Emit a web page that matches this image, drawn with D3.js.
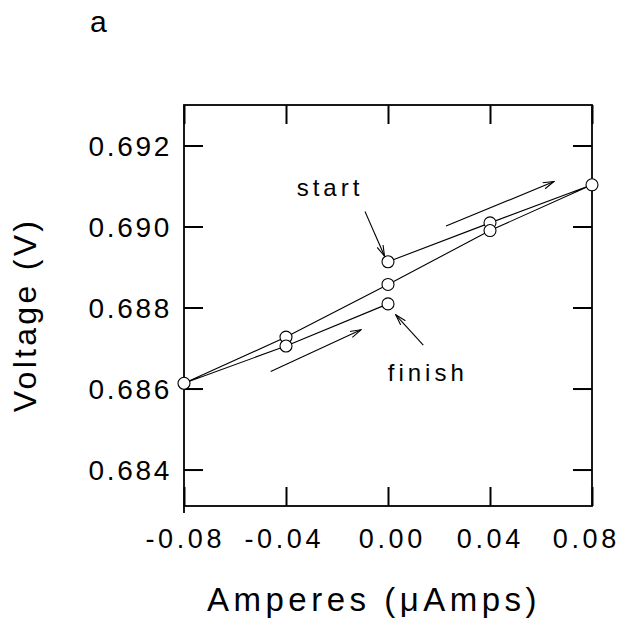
<!DOCTYPE html>
<html>
<head>
<meta charset="utf-8">
<script src="https://cdn.jsdelivr.net/npm/d3@7"></script>
<style>
  html, body { margin: 0; padding: 0; background: #fff; }
  svg { display: block; font-family: "Liberation Sans", Arial, Helvetica, sans-serif; }
</style>
</head>
<body>
<svg id="chart" width="619" height="626"></svg>
<script>
// ---- data ----
const currents = [0, 0.04, 0.08, 0.04, 0, -0.04, -0.08, -0.04, 0];
const voltages = [0.68913, 0.69009, 0.69103, 0.68990, 0.68857, 0.68727, 0.68613, 0.68705, 0.68809];
const xTicks = [-0.08, -0.04, 0.00, 0.04, 0.08];
const xTickLabels = ["-0.08", "-0.04", "0.00", "0.04", "0.08"];
const yTicks = [0.684, 0.686, 0.688, 0.690, 0.692];
const yTickLabels = ["0.684", "0.686", "0.688", "0.690", "0.692"];
const xDomain = [-0.08, 0.08];
const yDomain = [0.6831, 0.6930];
// annotation arrows in data units (tail -> head)
const arrowTails = [[0.02275, 0.69001], [-0.0460, 0.68642], [-0.00902, 0.69037], [0.01384, 0.68707]];
const arrowHeads = [[0.0651, 0.69111], [-0.01059, 0.68745], [-0.00137, 0.68927], [0.00302, 0.68782]];
const noteTexts = ["start", "finish"];
const notePos = [[-0.0358, 0.69076], [-0.0001, 0.68619]];
const panelLabel = "a";
const xTitle = "Amperes (\u03bcAmps)";
const yTitle = "Voltage (V)";

// ---- layout (not data) ----
const mLeft = 184, mRight = 592, mTop = 105, mBottom = 506;
const xLabelNudge = [-1, -4, 2, -2, -8];
const svg = d3.select("#chart");
const x = d3.scaleLinear().domain(xDomain).range([mLeft, mRight]);
const y = d3.scaleLinear().domain(yDomain).range([mBottom, mTop]);

svg.append("defs").append("marker")
  .attr("id", "arr").attr("markerUnits", "userSpaceOnUse")
  .attr("viewBox", "0 -5 12 10").attr("refX", 11).attr("refY", 0)
  .attr("markerWidth", 12).attr("markerHeight", 10).attr("orient", "auto")
  .append("path").attr("d", "M0,-3.2 L11,0 L0,3.2")
  .attr("fill", "none").attr("stroke", "#000").attr("stroke-width", 1.1);

const tickLen = 19;
const gL = svg.append("g").attr("transform", `translate(${mLeft},0)`)
  .call(d3.axisLeft(y).tickValues(yTicks).tickSize(-tickLen).tickPadding(0).tickFormat((d, i) => yTickLabels[i]));
const gR = svg.append("g").attr("transform", `translate(${mRight},0)`)
  .call(d3.axisRight(y).tickValues(yTicks).tickSize(-tickLen).tickFormat(""));
const gB = svg.append("g").attr("transform", `translate(0,${mBottom})`)
  .call(d3.axisBottom(x).tickValues(xTicks).tickSize(-tickLen).tickPadding(0).tickFormat((d, i) => xTickLabels[i]));
const gT = svg.append("g").attr("transform", `translate(0,${mTop})`)
  .call(d3.axisTop(x).tickValues(xTicks).tickSize(-tickLen).tickFormat(""));

[gL, gR, gB, gT].forEach(g => {
  g.select(".domain").remove();
  g.attr("font-family", null).attr("font-size", null);
  g.selectAll(".tick line").attr("stroke", "#000").attr("stroke-width", 2);
});
gL.selectAll(".tick text")
  .attr("x", -12).attr("dy", "0.35em")
  .style("font-size", "28px").style("letter-spacing", "2.7px")
  .attr("fill", "#000").attr("text-anchor", "end");
gB.selectAll(".tick text")
  .attr("y", 42).attr("dy", 0)
  .style("font-size", "27px").style("letter-spacing", "3.6px")
  .attr("fill", "#000").attr("text-anchor", "middle")
  .attr("dx", (d, i) => (1.8 + xLabelNudge[i]) + "px");

// frame
svg.append("rect").attr("x", mLeft).attr("y", mTop).attr("width", mRight - mLeft).attr("height", mBottom - mTop)
  .attr("fill", "none").attr("stroke", "#000").attr("stroke-width", 1.8);
svg.append("line").attr("x1", mLeft).attr("x2", mLeft).attr("y1", mBottom).attr("y2", mBottom + 7)
  .attr("stroke", "#000").attr("stroke-width", 1.8);

// data line
const pts = currents.map((c, i) => [c, voltages[i]]);
svg.append("path").datum(pts)
  .attr("d", d3.line().x(d => x(d[0])).y(d => y(d[1])))
  .attr("fill", "none").attr("stroke", "#000").attr("stroke-width", 1.1);
svg.selectAll("circle.pt").data(pts).enter().append("circle")
  .attr("class", "pt")
  .attr("cx", d => x(d[0])).attr("cy", d => y(d[1])).attr("r", 6)
  .attr("fill", "#fff").attr("stroke", "#000").attr("stroke-width", 1.1);

// arrows
svg.selectAll("line.arrow").data(arrowTails).enter().append("line")
  .attr("class", "arrow")
  .attr("x1", d => x(d[0])).attr("y1", d => y(d[1]))
  .attr("x2", (d, i) => x(arrowHeads[i][0])).attr("y2", (d, i) => y(arrowHeads[i][1]))
  .attr("stroke", "#000").attr("stroke-width", 1.1).attr("marker-end", "url(#arr)");

// notes
svg.selectAll("text.note").data(noteTexts).enter().append("text")
  .attr("class", "note")
  .attr("x", (d, i) => x(notePos[i][0])).attr("y", (d, i) => y(notePos[i][1]))
  .style("font-size", "24px").style("letter-spacing", "4px")
  .attr("fill", "#000").text(d => d);

// titles
svg.append("text").attr("x", 90).attr("y", 32)
  .style("font-size", "30px").attr("fill", "#000").text(panelLabel);
svg.append("text").attr("x", 374).attr("y", 611).attr("text-anchor", "middle")
  .style("font-size", "33px").style("letter-spacing", "4.5px").attr("fill", "#000").text(xTitle);
svg.append("text").attr("transform", "translate(36,315) rotate(-90)").attr("text-anchor", "middle")
  .style("font-size", "32px").style("letter-spacing", "3.3px").attr("fill", "#000").text(yTitle);
</script>
</body>
</html>
